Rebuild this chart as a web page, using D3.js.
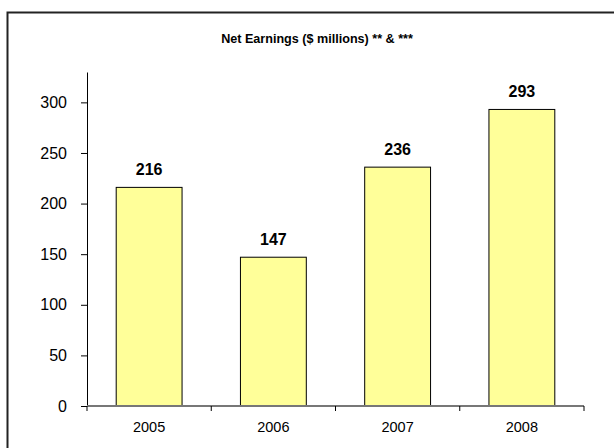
<!DOCTYPE html>
<html>
<head>
<meta charset="utf-8">
<script src="https://cdn.jsdelivr.net/npm/d3@7"></script>
<style>
  html, body { margin: 0; padding: 0; background: #fff; overflow: hidden; }
  svg { display: block; font-family: Arial, "Liberation Sans", sans-serif; }
</style>
</head>
<body>
<script>
// Net earnings by year, $ millions
const years = ["2005", "2006", "2007", "2008"];
const earnings = [216, 147, 236, 293];
const yTicks = [0, 50, 100, 150, 200, 250, 300];
const chartTitle = "Net Earnings ($ millions) ** & ***";

const W = 614, H = 448;
const svg = d3.select("body").append("svg").attr("width", W).attr("height", H);

// Chart frame: only the top and left edges fall inside the page
svg.append("path")
  .attr("d", `M7.5,${H}V12.5H${W}`)
  .attr("fill", "none").attr("stroke", "#222").attr("stroke-width", 2);

const plot = { left: 87, right: 584, top: 72, bottom: 406 };

const x = d3.scaleBand()
  .domain(years)
  .range([plot.left, plot.right])
  .paddingInner(0.47).paddingOuter(0.235);

const y = d3.scaleLinear()
  .domain([0, 330])
  .range([plot.bottom, plot.top]);

// Title
svg.append("text")
  .attr("x", 317).attr("y", 43)
  .attr("text-anchor", "middle")
  .attr("font-size", 12.6).attr("font-weight", "bold")
  .attr("fill", "#000")
  .text(chartTitle);

// Bars
svg.append("g").selectAll("rect")
  .data(years)
  .join("rect")
  .attr("x", (d) => x(d))
  .attr("y", (d, i) => y(earnings[i]))
  .attr("width", x.bandwidth())
  .attr("height", (d, i) => y(0) - y(earnings[i]))
  .attr("fill", "#ffff99")
  .attr("stroke", "#000").attr("stroke-width", 1);

// Value labels
svg.append("g").selectAll("text")
  .data(years)
  .join("text")
  .attr("x", (d) => x(d) + x.bandwidth() / 2)
  .attr("y", (d, i) => y(earnings[i]) - 12)
  .attr("text-anchor", "middle")
  .attr("font-size", 16).attr("font-weight", "bold")
  .attr("fill", "#000")
  .text((d, i) => earnings[i]);

// Y axis
const yAxis = svg.append("g")
  .attr("transform", `translate(${plot.left},0)`)
  .call(d3.axisLeft(y).tickValues(yTicks).tickSize(6).tickPadding(14).tickSizeOuter(0));
yAxis.select(".domain").attr("stroke", "#000");
yAxis.selectAll(".tick line").attr("stroke", "#000");
yAxis.selectAll(".tick text")
  .attr("font-size", 16).attr("fill", "#000")
  .attr("font-family", "Arial, 'Liberation Sans', sans-serif");

// X axis: ticks sit on the category boundaries
const xAxis = svg.append("g")
  .attr("transform", `translate(0,${plot.bottom})`);
xAxis.append("line")
  .attr("x1", plot.left).attr("x2", plot.right)
  .attr("y1", 0).attr("y2", 0)
  .attr("stroke", "#777").attr("stroke-width", 2);
const boundaries = d3.range(years.length + 1).map((i) => plot.left + i * (plot.right - plot.left) / years.length);
xAxis.selectAll("line.tk")
  .data(boundaries)
  .join("line")
  .attr("class", "tk")
  .attr("x1", (d) => d).attr("x2", (d) => d)
  .attr("y1", 0).attr("y2", 5)
  .attr("stroke", "#000");
xAxis.selectAll("text")
  .data(years)
  .join("text")
  .attr("x", (d) => x(d) + x.bandwidth() / 2)
  .attr("y", 26)
  .attr("text-anchor", "middle")
  .attr("font-size", 14.5).attr("fill", "#000")
  .text((d) => d);
</script>
</body>
</html>
